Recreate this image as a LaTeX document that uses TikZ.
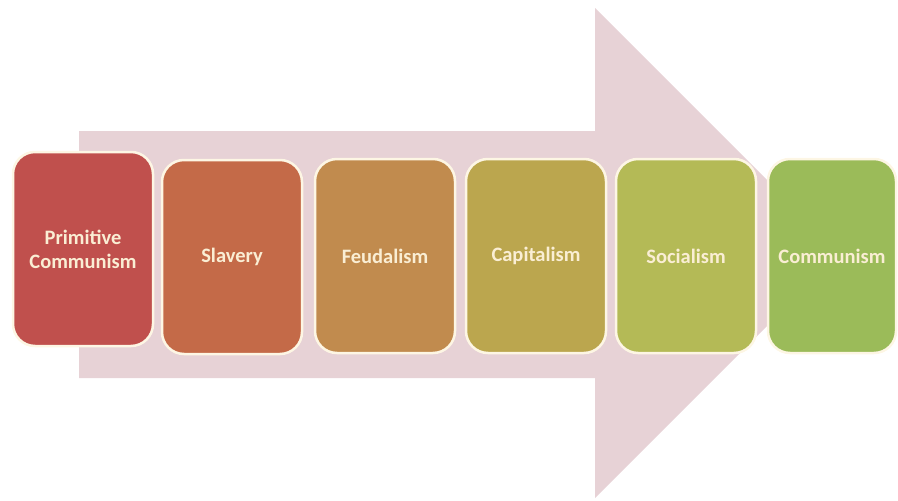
\documentclass[tikz,border=0pt]{standalone}
\usepackage{fontspec}
\setmainfont{Carlito}
\definecolor{arrowpink}{RGB}{231,210,214}
\definecolor{rimcream}{RGB}{253,246,228}
\definecolor{labelcream}{RGB}{250,238,212}
\definecolor{stageA}{RGB}{192,80,77}
\definecolor{stageB}{RGB}{196,106,72}
\definecolor{stageC}{RGB}{193,139,78}
\definecolor{stageD}{RGB}{187,166,78}
\definecolor{stageE}{RGB}{180,186,86}
\definecolor{stageF}{RGB}{155,187,89}
\begin{document}
\begin{tikzpicture}[x=1pt, y=-1pt,
    stagebox/.style={draw=rimcream, line width=2.5pt, rounded corners=22pt,
      minimum width=140pt, minimum height=194pt, inner sep=0pt,
      text=labelcream, align=center, font=\fontsize{20.5}{24}\selectfont\bfseries}]
      \useasboundingbox (0, 0) rectangle (898, 501);

      % the big arrow behind the stages
      \fill[arrowpink] (79, 131) -- (595, 131) -- (595, 8) -- (840, 253)
        -- (595, 498) -- (595, 378) -- (79, 378) -- cycle;

      \node[stagebox, fill=stageA] (primitive) at (83, 249) {Primitive\\Communism};
      \node[stagebox, fill=stageB] (slavery) at (232, 257) {Slavery};
      \node[stagebox, fill=stageC] (feudalism) at (385, 256) {Feudalism};
      \node[stagebox, fill=stageD] (capitalism) at (536, 256) {Capitalism};
      \node[stagebox, fill=stageE] (socialism) at (686, 256) {Socialism};
      \node[stagebox, fill=stageF, minimum width=128pt] (communism) at (832, 256) {Communism};
    \end{tikzpicture}
\end{document}
